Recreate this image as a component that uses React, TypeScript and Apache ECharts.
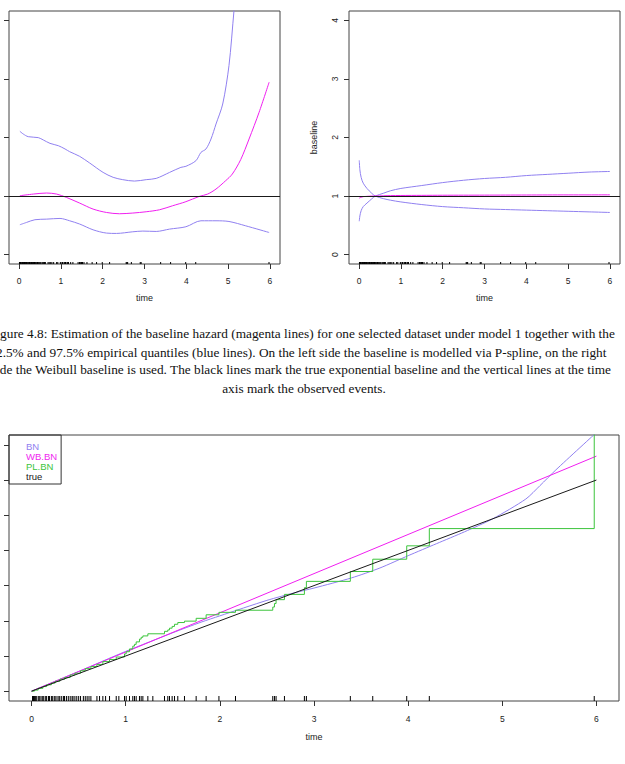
import React, { useEffect, useRef } from "react";
import * as echarts from "echarts";

// ---- shared axis ticks ----
const TIME_TICKS = [0, 1, 2, 3, 4, 5, 6];
const PS_Y_TICKS = [0.5, 1, 1.5, 2, 2.5];
const WB_Y_TICKS = [0, 1, 2, 3, 4];
const CUM_Y_TICKS = [0, 1, 2, 3, 4, 5, 6, 7];

// ---- observed event times (rug marks) ----
const EVENT_TIMES = [
  0.01, 0.02, 0.03, 0.04, 0.05, 0.07, 0.08, 0.09, 0.11, 0.12, 0.13, 0.15, 0.16, 0.18, 0.19,
  0.21, 0.22, 0.24, 0.25, 0.27, 0.29, 0.3, 0.32, 0.34, 0.35, 0.37, 0.39, 0.41, 0.43, 0.44,
  0.46, 0.48, 0.5, 0.52, 0.55, 0.57, 0.59, 0.61, 0.63, 0.694, 0.722, 0.757, 0.786, 0.828,
  0.899, 0.927, 0.987, 1.005, 1.04, 1.075, 1.093, 1.111, 1.146, 1.164, 1.182, 1.235, 1.288,
  1.412, 1.447, 1.465, 1.493, 1.518, 1.553, 1.624, 1.748, 1.854, 1.99, 2.166, 2.562, 2.58,
  2.597, 2.686, 2.898, 2.919, 3.386, 3.624, 3.985, 4.225, 5.977,
];

// ---- P-spline baseline (top left) ----
const PS_UPPER_T = [0.02, 0.1, 0.22, 0.46, 0.58, 0.74, 0.94, 1.1, 1.21, 1.45, 1.69, 2.01, 2.25, 2.48, 2.76, 3.04, 3.28, 3.6, 3.87, 3.99, 4.23, 4.35, 4.47, 4.59, 4.71, 4.87, 5.02, 5.14, 5.25];
const PS_UPPER_V = [1.553, 1.53, 1.507, 1.499, 1.479, 1.45, 1.43, 1.402, 1.379, 1.339, 1.282, 1.202, 1.16, 1.14, 1.128, 1.14, 1.151, 1.202, 1.245, 1.254, 1.302, 1.373, 1.402, 1.487, 1.615, 1.786, 2.114, 2.584, 3.0];
const PS_EST_T = [0.02, 0.34, 0.66, 0.9, 1.13, 1.45, 1.77, 2.09, 2.4, 2.72, 3.04, 3.36, 3.67, 3.99, 4.31, 4.51, 4.71, 4.94, 5.1, 5.3, 5.5, 5.74, 5.98];
const PS_EST_V = [1.003, 1.017, 1.026, 1.017, 0.989, 0.94, 0.889, 0.86, 0.849, 0.855, 0.866, 0.883, 0.917, 0.952, 0.997, 1.017, 1.06, 1.131, 1.188, 1.311, 1.487, 1.715, 1.972];
const PS_LOWER_T = [0.02, 0.18, 0.38, 0.66, 0.98, 1.21, 1.45, 1.77, 2.09, 2.33, 2.72, 2.96, 3.28, 3.6, 3.99, 4.35, 4.71, 5.02, 5.42, 5.98];
const PS_LOWER_V = [0.755, 0.775, 0.798, 0.803, 0.809, 0.789, 0.761, 0.712, 0.684, 0.681, 0.695, 0.701, 0.698, 0.718, 0.738, 0.789, 0.789, 0.783, 0.746, 0.689];

// ---- Weibull baseline (top right) ----
const WB_T = [0.005, 0.02, 0.05, 0.1, 0.19, 0.3, 0.39, 0.59, 0.75, 1.0, 1.5, 2.0, 2.5, 3.0, 3.5, 4.0, 4.5, 5.0, 5.5, 6.0];
const WB_BAND_A = [1.61, 1.45, 1.32, 1.22, 1.13, 1.05, 1.0, 0.955, 0.93, 0.9, 0.855, 0.82, 0.8, 0.78, 0.77, 0.76, 0.75, 0.74, 0.73, 0.72];
const WB_BAND_B = [0.57, 0.66, 0.75, 0.82, 0.88, 0.95, 1.0, 1.05, 1.09, 1.13, 1.18, 1.23, 1.27, 1.3, 1.32, 1.35, 1.37, 1.39, 1.41, 1.42];
const WB_EST = [0.965, 0.97, 0.98, 0.99, 0.995, 1.0, 1.0, 1.005, 1.008, 1.01, 1.012, 1.014, 1.015, 1.016, 1.017, 1.018, 1.019, 1.02, 1.02, 1.021];

// ---- cumulative baseline hazards (bottom) ----
const BN_T = [0, 0.5, 1.0, 1.5, 1.8, 2.0, 2.5, 2.8, 3.0, 3.4, 3.7, 4.0, 4.3, 4.6, 4.9, 5.25, 5.4, 5.57, 6.0];
const BN_V = [0, 0.56, 1.13, 1.66, 1.96, 2.14, 2.58, 2.8, 2.93, 3.22, 3.5, 3.85, 4.19, 4.53, 4.9, 5.46, 5.84, 6.29, 7.35];
const WB_BN_T = [0, 6];
const WB_BN_V = [0, 6.68];
const PL_BN_T = [0, 0.03, 0.07, 0.12, 0.16, 0.21, 0.25, 0.3, 0.35, 0.41, 0.46, 0.52, 0.57, 0.63, 0.694, 0.757, 0.828, 0.899, 0.987, 1.005, 1.04, 1.075, 1.093, 1.111, 1.146, 1.164, 1.182, 1.235, 1.412, 1.447, 1.465, 1.493, 1.518, 1.553, 1.624, 1.748, 1.854, 1.99, 2.166, 2.562, 2.58, 2.597, 2.686, 2.898, 2.919, 3.386, 3.624, 3.985, 4.225, 5.977];
const PL_BN_V = [0, 0.03, 0.08, 0.13, 0.18, 0.23, 0.28, 0.34, 0.39, 0.46, 0.51, 0.58, 0.64, 0.7, 0.76, 0.84, 0.9, 0.97, 1.06, 1.12, 1.2, 1.28, 1.33, 1.4, 1.48, 1.53, 1.57, 1.63, 1.7, 1.74, 1.79, 1.84, 1.9, 1.95, 1.99, 2.07, 2.17, 2.24, 2.3, 2.39, 2.49, 2.6, 2.75, 2.94, 3.12, 3.4, 3.75, 4.13, 4.62, 7.45];
const TRUE_T = [0, 6];
const TRUE_V = [0, 6];

const LEGEND_NAMES = ["BN", "WB.BN", "PL.BN", "true"];

const CAPTION = [
  "Figure 4.8: Estimation of the baseline hazard (magenta lines) for one selected dataset under model 1 together with the",
  "2.5% and 97.5% empirical quantiles (blue lines). On the left side the baseline is modelled via P-spline, on the right",
  "side the Weibull baseline is used. The black lines mark the true exponential baseline and the vertical lines at the time",
  "axis mark the observed events.",
];

const BLUE = "#9080f0";
const MAGENTA = "#f01ef0";
const GREEN = "#3cc43c";
const BLACK = "#1a1a1a";
const SANS = "Liberation Sans, Arial, sans-serif";
const SERIF = "Liberation Serif, Times New Roman, serif";

const pairs = (t: number[], v: number[]) => t.map((x, i) => [x, v[i]]);

function lineSeries(name: string | undefined, idx: number, t: number[], v: number[], color: string, extra: any = {}) {
  return {
    type: "line",
    name,
    xAxisIndex: idx,
    yAxisIndex: idx,
    data: pairs(t, v),
    showSymbol: false,
    symbol: "none",
    silent: true,
    clip: true,
    lineStyle: { color, width: 1 },
    itemStyle: { color },
    ...extra,
  };
}

function rugSeries(idx: number, len: number) {
  return {
    type: "custom",
    xAxisIndex: idx,
    yAxisIndex: idx,
    silent: true,
    clip: false,
    data: EVENT_TIMES.map((t) => [t, 0]),
    encode: { x: 0, y: 1 },
    renderItem: (params: any, api: any) => {
      const cs = params.coordSys;
      const x = api.coord([api.value(0), api.value(1)])[0];
      const yb = cs.y + cs.height;
      return {
        type: "line",
        shape: { x1: x, y1: yb, x2: x, y2: yb - len },
        style: { stroke: "#000", lineWidth: 1 },
      };
    },
  };
}

function hLine(idx: number, value: number) {
  return {
    type: "line",
    xAxisIndex: idx,
    yAxisIndex: idx,
    data: [],
    silent: true,
    markLine: {
      silent: true,
      symbol: "none",
      label: { show: false },
      lineStyle: { color: BLACK, width: 1, type: "solid" },
      data: [{ yAxis: value }],
    },
  };
}

function timeAxis(gridIndex: number, labelMargin: number, nameGap: number) {
  return {
    type: "value",
    gridIndex,
    min: -0.24,
    max: 6.24,
    axisLine: { show: false, onZero: false },
    axisTick: { show: true, inside: false, length: 5, customValues: TIME_TICKS, lineStyle: { color: "#333", width: 1 } },
    axisLabel: { customValues: TIME_TICKS, margin: labelMargin, fontFamily: SANS, fontSize: 8.5, color: "#222" },
    splitLine: { show: false },
    name: "time",
    nameLocation: "middle",
    nameGap,
    nameTextStyle: { fontFamily: SANS, fontSize: 9, color: "#222" },
  };
}

function valueAxis(gridIndex: number, min: number, max: number, ticks: number[], labels: boolean, extra: any = {}) {
  return {
    type: "value",
    gridIndex,
    min,
    max,
    axisLine: { show: false, onZero: false },
    axisTick: { show: true, inside: false, length: 5, customValues: ticks, lineStyle: { color: "#333", width: 1 } },
    axisLabel: labels
      ? { customValues: ticks, rotate: 90, margin: 10, fontFamily: SANS, fontSize: 8.5, color: "#222" }
      : { show: false },
    splitLine: { show: false },
    ...extra,
  };
}

export default function App() {
  const ref = useRef<HTMLDivElement>(null);

  useEffect(() => {
    if (!ref.current) return;
    const chart = echarts.init(ref.current, null, { renderer: "svg" });
    const gridStyle = { show: true, borderColor: "#444", borderWidth: 1, backgroundColor: "transparent" };

    const captionTexts = CAPTION.map((line, i) => {
      const ys = [333, 352, 369.5, 388];
      const xs = [-11, -4, -9, 304];
      return {
        type: "text",
        x: xs[i],
        y: ys[i],
        silent: true,
        style: {
          text: line,
          fontFamily: SERIF,
          fontSize: 13.3,
          fill: "#111",
          align: i === 3 ? "center" : "left",
          verticalAlign: "middle",
        },
      };
    });

    chart.setOption({
      animation: false,
      backgroundColor: "#fff",
      grid: [
        { left: 9, top: 11, width: 271, height: 253, ...gridStyle },
        { left: 349, top: 11, width: 271, height: 253, ...gridStyle },
        { left: 9, top: 435, width: 610, height: 266, ...gridStyle },
      ],
      xAxis: [timeAxis(0, 12, 29), timeAxis(1, 12, 29), timeAxis(2, 13, 31)],
      yAxis: [
        valueAxis(0, 0.42, 2.58, PS_Y_TICKS, false),
        valueAxis(1, -0.16, 4.16, WB_Y_TICKS, true, {
          name: "baseline",
          nameLocation: "middle",
          nameGap: 31,
          nameRotate: 90,
          nameTextStyle: { fontFamily: SANS, fontSize: 9, color: "#222" },
        }),
        valueAxis(2, -0.28, 7.28, CUM_Y_TICKS, false),
      ],
      legend: {
        data: [
          { name: "BN", textStyle: { color: BLUE } },
          { name: "WB.BN", textStyle: { color: MAGENTA } },
          { name: "PL.BN", textStyle: { color: GREEN } },
          { name: "true", textStyle: { color: BLACK } },
        ].filter((d) => LEGEND_NAMES.includes(d.name)),
        orient: "vertical",
        left: 9,
        top: 435,
        icon: "none",
        itemWidth: 10,
        itemHeight: 10,
        itemGap: 0,
        padding: [6.5, 4, 2.5, 2],
        borderColor: "#333",
        borderWidth: 1,
        selectedMode: false,
        textStyle: { fontFamily: SANS, fontSize: 9.5, lineHeight: 10 },
      },
      graphic: captionTexts,
      series: [
        // top left: P-spline baseline
        lineSeries(undefined, 0, PS_UPPER_T, PS_UPPER_V, BLUE, { smooth: 0.3 }),
        lineSeries(undefined, 0, PS_LOWER_T, PS_LOWER_V, BLUE, { smooth: 0.3 }),
        lineSeries(undefined, 0, PS_EST_T, PS_EST_V, MAGENTA, { smooth: 0.3 }),
        hLine(0, 1),
        rugSeries(0, 2),
        // top right: Weibull baseline
        lineSeries(undefined, 1, WB_T, WB_BAND_A, BLUE, { smooth: 0.3 }),
        lineSeries(undefined, 1, WB_T, WB_BAND_B, BLUE, { smooth: 0.3 }),
        lineSeries(undefined, 1, WB_T, WB_EST, MAGENTA, { smooth: 0.3 }),
        hLine(1, 1),
        rugSeries(1, 2),
        // bottom: cumulative baseline hazards
        lineSeries("BN", 2, BN_T, BN_V, BLUE, { smooth: 0.25 }),
        lineSeries("WB.BN", 2, WB_BN_T, WB_BN_V, MAGENTA),
        lineSeries("PL.BN", 2, PL_BN_T, PL_BN_V, GREEN, { step: "end" }),
        lineSeries("true", 2, TRUE_T, TRUE_V, BLACK),
        rugSeries(2, 5),
      ],
    });
    return () => chart.dispose();
  }, []);

  return (
    <div
      ref={ref}
      style={{ position: "absolute", left: 0, top: 0, width: 625, height: 764, background: "#fff" }}
    />
  );
}
